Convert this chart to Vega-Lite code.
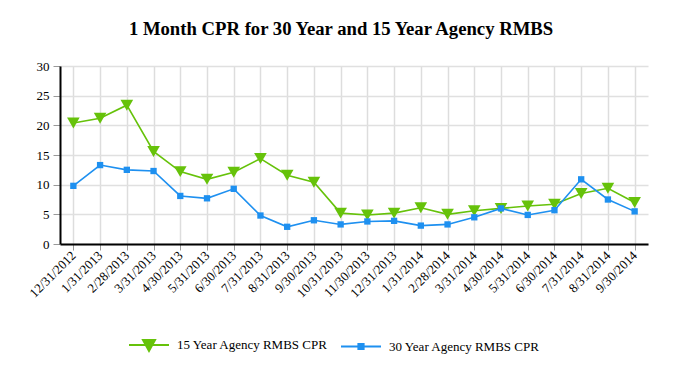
{
  "$schema": "https://vega.github.io/schema/vega-lite/v6.json",
  "autosize": "none",
  "width": 588,
  "height": 178,
  "padding": {"left": 60, "top": 66, "right": 34, "bottom": 140},
  "background": "white",
  "title": {
    "text": "1 Month CPR for 30 Year and 15 Year Agency RMBS",
    "font": "Liberation Serif",
    "fontSize": 18.7,
    "fontWeight": "bold",
    "color": "#000000",
    "anchor": "middle",
    "dx": -13,
    "offset": 21
  },
  "data": {
    "values": [
      {"date": "12/31/2012", "series": "15 Year Agency RMBS CPR", "cpr": 20.4},
      {"date": "1/31/2013", "series": "15 Year Agency RMBS CPR", "cpr": 21.2},
      {"date": "2/28/2013", "series": "15 Year Agency RMBS CPR", "cpr": 23.4},
      {"date": "3/31/2013", "series": "15 Year Agency RMBS CPR", "cpr": 15.6},
      {"date": "4/30/2013", "series": "15 Year Agency RMBS CPR", "cpr": 12.2},
      {"date": "5/31/2013", "series": "15 Year Agency RMBS CPR", "cpr": 10.9},
      {"date": "6/30/2013", "series": "15 Year Agency RMBS CPR", "cpr": 12.1},
      {"date": "7/31/2013", "series": "15 Year Agency RMBS CPR", "cpr": 14.4},
      {"date": "8/31/2013", "series": "15 Year Agency RMBS CPR", "cpr": 11.6},
      {"date": "9/30/2013", "series": "15 Year Agency RMBS CPR", "cpr": 10.4},
      {"date": "10/31/2013", "series": "15 Year Agency RMBS CPR", "cpr": 5.2},
      {"date": "11/30/2013", "series": "15 Year Agency RMBS CPR", "cpr": 4.9},
      {"date": "12/31/2013", "series": "15 Year Agency RMBS CPR", "cpr": 5.2},
      {"date": "1/31/2014", "series": "15 Year Agency RMBS CPR", "cpr": 6.1},
      {"date": "2/28/2014", "series": "15 Year Agency RMBS CPR", "cpr": 5.0},
      {"date": "3/31/2014", "series": "15 Year Agency RMBS CPR", "cpr": 5.6},
      {"date": "4/30/2014", "series": "15 Year Agency RMBS CPR", "cpr": 6.0},
      {"date": "5/31/2014", "series": "15 Year Agency RMBS CPR", "cpr": 6.4},
      {"date": "6/30/2014", "series": "15 Year Agency RMBS CPR", "cpr": 6.7},
      {"date": "7/31/2014", "series": "15 Year Agency RMBS CPR", "cpr": 8.5},
      {"date": "8/31/2014", "series": "15 Year Agency RMBS CPR", "cpr": 9.4},
      {"date": "9/30/2014", "series": "15 Year Agency RMBS CPR", "cpr": 7.0},
      {"date": "12/31/2012", "series": "30 Year Agency RMBS CPR", "cpr": 9.8},
      {"date": "1/31/2013", "series": "30 Year Agency RMBS CPR", "cpr": 13.3},
      {"date": "2/28/2013", "series": "30 Year Agency RMBS CPR", "cpr": 12.5},
      {"date": "3/31/2013", "series": "30 Year Agency RMBS CPR", "cpr": 12.3},
      {"date": "4/30/2013", "series": "30 Year Agency RMBS CPR", "cpr": 8.1},
      {"date": "5/31/2013", "series": "30 Year Agency RMBS CPR", "cpr": 7.7},
      {"date": "6/30/2013", "series": "30 Year Agency RMBS CPR", "cpr": 9.3},
      {"date": "7/31/2013", "series": "30 Year Agency RMBS CPR", "cpr": 4.8},
      {"date": "8/31/2013", "series": "30 Year Agency RMBS CPR", "cpr": 2.9},
      {"date": "9/30/2013", "series": "30 Year Agency RMBS CPR", "cpr": 4.0},
      {"date": "10/31/2013", "series": "30 Year Agency RMBS CPR", "cpr": 3.3},
      {"date": "11/30/2013", "series": "30 Year Agency RMBS CPR", "cpr": 3.8},
      {"date": "12/31/2013", "series": "30 Year Agency RMBS CPR", "cpr": 3.9},
      {"date": "1/31/2014", "series": "30 Year Agency RMBS CPR", "cpr": 3.1},
      {"date": "2/28/2014", "series": "30 Year Agency RMBS CPR", "cpr": 3.3},
      {"date": "3/31/2014", "series": "30 Year Agency RMBS CPR", "cpr": 4.5},
      {"date": "4/30/2014", "series": "30 Year Agency RMBS CPR", "cpr": 6.0},
      {"date": "5/31/2014", "series": "30 Year Agency RMBS CPR", "cpr": 4.9},
      {"date": "6/30/2014", "series": "30 Year Agency RMBS CPR", "cpr": 5.7},
      {"date": "7/31/2014", "series": "30 Year Agency RMBS CPR", "cpr": 10.9},
      {"date": "8/31/2014", "series": "30 Year Agency RMBS CPR", "cpr": 7.5},
      {"date": "9/30/2014", "series": "30 Year Agency RMBS CPR", "cpr": 5.5}
    ]
  },
  "encoding": {
    "x": {
      "field": "date",
      "type": "nominal",
      "sort": null,
      "scale": {"type": "point", "padding": 0.5},
      "axis": {
        "title": null,
        "labelAngle": -45,
        "labelAlign": "right",
        "labelBaseline": "middle",
        "labelFont": "Liberation Serif",
        "labelFontSize": 13,
        "labelColor": "#000000",
        "labelPadding": 3,
        "domainColor": "#000000",
        "domainWidth": 2,
        "tickColor": "#999999",
        "tickSize": 6,
        "grid": true,
        "gridColor": "#dddddd",
        "gridWidth": 1.5
      }
    },
    "y": {
      "field": "cpr",
      "type": "quantitative",
      "scale": {"domain": [0, 30], "nice": false},
      "axis": {
        "title": null,
        "values": [0, 5, 10, 15, 20, 25, 30],
        "labelFont": "Liberation Serif",
        "labelFontSize": 13,
        "labelColor": "#000000",
        "labelPadding": 4,
        "domainColor": "#000000",
        "domainWidth": 2,
        "tickColor": "#999999",
        "tickSize": 7,
        "grid": true,
        "gridColor": "#e0e0e0",
        "gridWidth": 1.5
      }
    },
    "color": {
      "field": "series",
      "type": "nominal",
      "scale": {
        "domain": ["15 Year Agency RMBS CPR", "30 Year Agency RMBS CPR"],
        "range": ["#66c20a", "#1e90f0"]
      },
      "legend": {
        "title": null,
        "orient": "none",
        "legendX": 68,
        "legendY": 258,
        "direction": "horizontal",
        "labelFont": "Liberation Serif",
        "labelFontSize": 13,
        "labelColor": "#000000",
        "labelOffset": 7,
        "columnPadding": 8,
        "symbolOpacity": 1,
        "symbolSize": 1600,
        "symbolStrokeWidth": 2,
        "encode": {
          "symbols": {
            "update": {
              "shape": {"signal": "datum.value === '15 Year Agency RMBS CPR' ? 'M-1,0L1,0M-0.3,-0.25L0.3,-0.25L0,0.3Z' : 'M-1,0L1,0M-0.13,-0.13L0.13,-0.13L0.13,0.13L-0.13,0.13Z'"},
              "size": {"value": 1600},
              "fill": {"scale": "color", "field": "value"},
              "stroke": {"scale": "color", "field": "value"},
              "fillOpacity": {"value": 1},
              "strokeOpacity": {"value": 1},
              "strokeWidth": {"value": 2},
              "opacity": {"value": 1}
            }
          }
        }
      }
    }
  },
  "layer": [
    {
      "mark": {"type": "line", "strokeWidth": 1.6}
    },
    {
      "transform": [{"filter": "datum.series === '15 Year Agency RMBS CPR'"}],
      "mark": {"type": "point", "filled": true, "opacity": 1, "shape": "triangle-down", "size": 160}
    },
    {
      "transform": [{"filter": "datum.series === '30 Year Agency RMBS CPR'"}],
      "mark": {"type": "point", "filled": true, "opacity": 1, "shape": "square", "size": 40}
    }
  ],
  "config": {
    "view": {"stroke": null}
  }
}
